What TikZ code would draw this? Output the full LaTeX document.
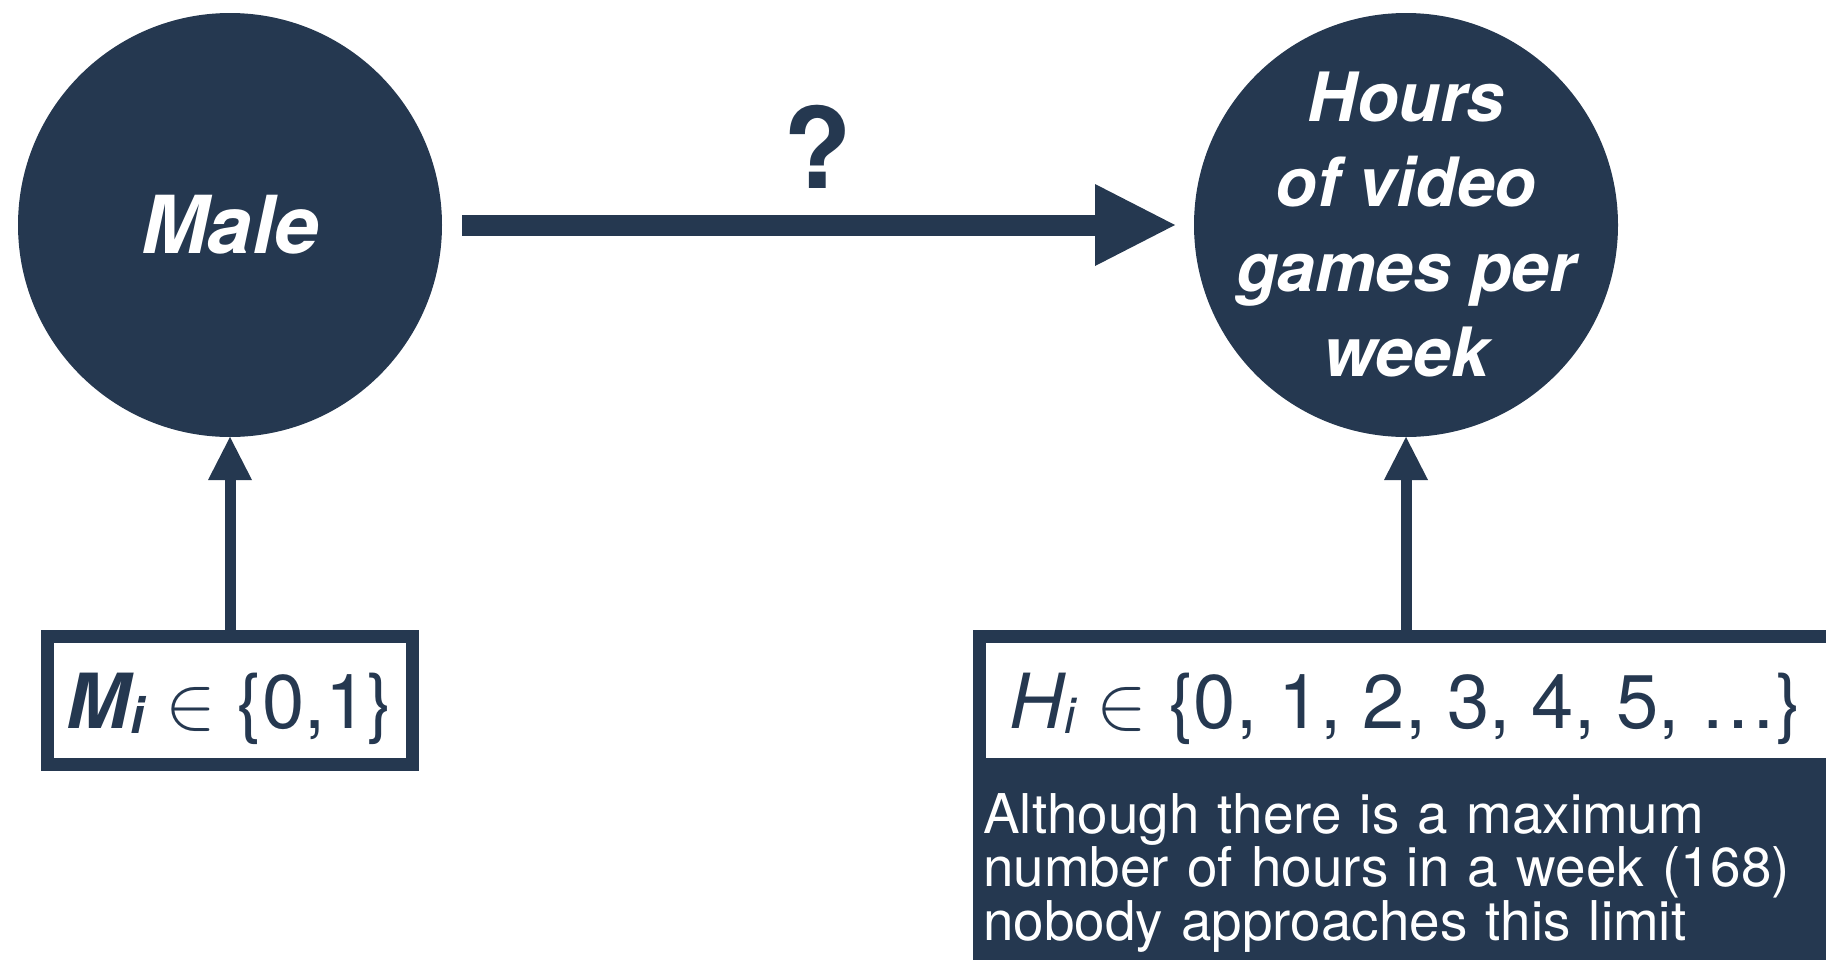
\RequirePackage{fix-cm}
\documentclass[tikz,border=0pt]{standalone}
\usepackage{fontspec}
\setmainfont{TeX Gyre Heros}
\usetikzlibrary{arrows.meta}
\definecolor{navy}{RGB}{37,56,80}
\begin{document}
\begin{tikzpicture}[x=0.5pt,y=-0.5pt,
  bubble/.style={circle, fill=navy, minimum size=212pt, inner sep=0pt, outer sep=0pt},
  bubbletext/.style={text=white, align=center, inner sep=0pt},
  valbox/.style={draw=navy, line width=6.5pt, fill=white, minimum height=64pt, inner sep=0pt, text=navy, text height=29pt, text depth=1.5pt},
  bigarrow/.style={draw=navy, line width=10.5pt, -{Triangle[length=40pt,width=41pt,line width=0pt]}},
  smallarrow/.style={draw=navy, line width=5.5pt, -{Triangle[length=21.5pt,width=22pt,line width=0pt]}},
  notebox/.style={fill=navy, text=white, align=left, anchor=north west, inner xsep=5pt, inner ysep=11pt, text width=422.5pt, minimum height=100pt, font=\fontsize{27.4}{26.75}\selectfont},
]
\useasboundingbox (0,0) rectangle (1826,959);
\node[bubble] (male) at (230,225) {};
\node[bubbletext, font=\fontsize{40}{48}\selectfont\bfseries\itshape] (maletext) at (male.center) {Male};
\node[bubble] (hours) at (1406,225) {};
\node[bubbletext, font=\fontsize{34}{42.5}\selectfont\bfseries\itshape] (hourstext) at (hours.center) {Hours\\of video\\games per\\week};
\node[font=\fontsize{56}{56}\selectfont\bfseries, text=navy, anchor=base, inner sep=0pt] (q) at (818,188) {?};
\draw[bigarrow, shorten <=10pt, shorten >=9.5pt] (male) -- (hours);
\node[valbox, minimum width=182.5pt, font=\fontsize{38}{40}\selectfont] (mbox) at (230,700.5)
  {{\bfseries\itshape M}{\bfseries\itshape\fontsize{25}{25}\selectfont\raisebox{-2.5pt}{i}} $\in$ \{0,1\}};
\node[valbox, minimum width=426.5pt, font=\fontsize{38}{40}\selectfont] (hbox) at (1406,700.5)
  {{\itshape H}{\itshape\fontsize{25}{25}\selectfont\raisebox{-2.5pt}{i}} $\in$ \{0, 1, 2, 3, 4, 5, …\}};
\node[notebox] (note) at (hbox.south west)
  {Although there is a maximum\\number of hours in a week (168)\\nobody approaches this limit};
\draw[smallarrow] (mbox.north) -- (male.south);
\draw[smallarrow] (hbox.north) -- (hours.south);
\end{tikzpicture}
\end{document}
